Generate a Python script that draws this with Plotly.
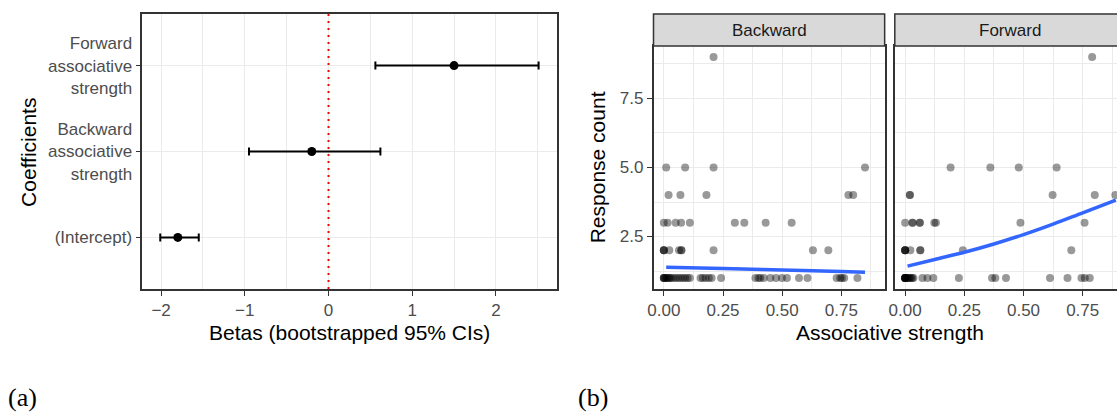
import plotly.graph_objects as go

# ---------------- Panel (a): coefficient estimates ----------------
coef_labels = ["(Intercept)", "Backward<br>associative<br>strength", "Forward<br>associative<br>strength"]
coef_est = [-1.80, -0.20, 1.50]
ci_low = [-2.01, -0.95, 0.56]
ci_high = [-1.55, 0.62, 2.51]
ref_line = 0

# ---------------- Panel (b): response counts ----------------
bw_x = [0.21,
        0.01, 0.09, 0.21, 0.85,
        0.02, 0.07, 0.18, 0.78, 0.80,
        0.00, 0.016, 0.05, 0.073, 0.11, 0.30, 0.34, 0.43, 0.54,
        0.00, 0.00, 0.00, 0.023, 0.064, 0.074, 0.074, 0.21, 0.63, 0.695,
        0.00, 0.00, 0.00, 0.005, 0.01, 0.015, 0.02, 0.025, 0.03, 0.04, 0.05, 0.06,
        0.07, 0.08, 0.09, 0.10, 0.11, 0.155, 0.165, 0.177, 0.19, 0.202, 0.242,
        0.387, 0.40, 0.408, 0.422, 0.45, 0.474, 0.499, 0.52, 0.571, 0.607,
        0.73, 0.745, 0.752, 0.762, 0.818]
bw_y = [9,
        5, 5, 5, 5,
        4, 4, 4, 4, 4,
        3, 3, 3, 3, 3, 3, 3, 3, 3,
        2, 2, 2, 2, 2, 2, 2, 2, 2, 2,
        1, 1, 1, 1, 1, 1, 1, 1, 1, 1, 1, 1,
        1, 1, 1, 1, 1, 1, 1, 1, 1, 1, 1,
        1, 1, 1, 1, 1, 1, 1, 1, 1, 1,
        1, 1, 1, 1, 1]

fw_x = [0.79,
        0.192, 0.36, 0.48, 0.64,
        0.02, 0.02, 0.623, 0.801, 0.888,
        0.00, 0.031, 0.031, 0.062, 0.062, 0.123, 0.13, 0.487, 0.758,
        0.00, 0.00, 0.00, 0.00, 0.022, 0.064, 0.064, 0.244, 0.702,
        0.00, 0.00, 0.00, 0.00, 0.00, 0.00, 0.005, 0.01, 0.015, 0.02, 0.025, 0.03,
        0.035, 0.073, 0.094, 0.119, 0.227, 0.367, 0.381, 0.426, 0.612, 0.686,
        0.745, 0.759, 0.78]
fw_y = [9,
        5, 5, 5, 5,
        4, 4, 4, 4, 4,
        3, 3, 3, 3, 3, 3, 3, 3, 3,
        2, 2, 2, 2, 2, 2, 2, 2, 2,
        1, 1, 1, 1, 1, 1, 1, 1, 1, 1, 1, 1,
        1, 1, 1, 1, 1, 1, 1, 1, 1, 1,
        1, 1, 1]

bw_fit_x = [0.01, 0.25, 0.50, 0.75, 0.85]
bw_fit_y = [1.39, 1.34, 1.29, 1.23, 1.21]
fw_fit_x = [0.01, 0.125, 0.25, 0.375, 0.50, 0.625, 0.75, 0.89]
fw_fit_y = [1.43, 1.67, 1.93, 2.23, 2.57, 2.95, 3.36, 3.82]

facet_names = ["Backward", "Forward"]
x_ticks = [0, 0.25, 0.5, 0.75]
x_ticktext = ["0.00", "0.25", "0.50", "0.75"]

# ---------------- figure ----------------
W, H = 1117, 414
FONT = "Liberation Sans, Arial, sans-serif"
TICK_C = "#4D4D4D"
BORDER_C = "#333333"
GRID_C = "#EBEBEB"
PANEL_W = 232.4  # full facet panel width in px (the Forward one is cut by the page edge)


def px_x(p):
    return p / W


def px_y(p):
    return 1 - p / H


fig = go.Figure()

err_plus = [h - e for h, e in zip(ci_high, coef_est)]
err_minus = [e - l for e, l in zip(coef_est, ci_low)]

fig.add_trace(go.Scatter(
    x=coef_est, y=coef_labels, mode="markers",
    marker=dict(color="black", size=9),
    error_x=dict(type="data", array=err_plus, arrayminus=err_minus,
                 color="black", thickness=2, width=4),
    xaxis="x", yaxis="y", showlegend=False))

pt_marker = dict(color="rgba(0,0,0,0.4)", size=8, line=dict(width=0))
fig.add_trace(go.Scatter(x=bw_x, y=bw_y, mode="markers", marker=pt_marker,
                         xaxis="x2", yaxis="y2", showlegend=False))
fig.add_trace(go.Scatter(x=bw_fit_x, y=bw_fit_y, mode="lines",
                         line=dict(color="#3366FF", width=3.5, shape="spline"),
                         xaxis="x2", yaxis="y2", showlegend=False))
fig.add_trace(go.Scatter(x=fw_x, y=fw_y, mode="markers", marker=pt_marker,
                         xaxis="x3", yaxis="y3", showlegend=False))
fig.add_trace(go.Scatter(x=fw_fit_x, y=fw_fit_y, mode="lines",
                         line=dict(color="#3366FF", width=3.5, shape="spline"),
                         xaxis="x3", yaxis="y3", showlegend=False))

tickfont = dict(family=FONT, size=17, color=TICK_C)
common_ax = dict(showline=True, linecolor=BORDER_C, linewidth=1.5,
                 ticks="outside", ticklen=5, tickwidth=1.2, tickcolor=BORDER_C,
                 showgrid=True, gridcolor=GRID_C, gridwidth=1.3,
                 zeroline=False, tickfont=tickfont)

# left panel axes
left_dom_x = [px_x(137), px_x(554)]
plot_dom_y = [px_y(289), px_y(14)]
fig.update_layout(
    xaxis=dict(domain=left_dom_x, range=[-2.225, 2.73], dtick=1, tick0=0,
               mirror=True, anchor="y",
               minor=dict(dtick=0.5, showgrid=True, gridcolor=GRID_C, gridwidth=0.7),
               **common_ax),
    yaxis=dict(domain=plot_dom_y, type="category", categoryorder="array",
               categoryarray=coef_labels, range=[-0.6, 2.6], mirror=True,
               anchor="x", **common_ax),
)

# right panels
bw_dom = [px_x(651), px_x(651 + PANEL_W)]
fw_dom = [px_x(893.6), 1.0]
right_dom_y = [px_y(289), px_y(46)]
yr = [0.6, 9.4]
minor_x = dict(dtick=0.125, tick0=0, showgrid=True, gridcolor=GRID_C, gridwidth=0.7)
minor_y = dict(dtick=1.25, tick0=0, showgrid=True, gridcolor=GRID_C, gridwidth=0.7)
ax_no_ticks = {k: v for k, v in common_ax.items() if k != "ticks"}
fig.update_layout(
    xaxis2=dict(domain=bw_dom, range=[-0.0437, 0.933], anchor="y2",
                tickvals=x_ticks, ticktext=x_ticktext, mirror=True,
                minor=minor_x, **common_ax),
    yaxis2=dict(domain=right_dom_y, range=yr, anchor="x2", dtick=2.5, tick0=0,
                tickformat=".1f", mirror=True, minor=minor_y, **common_ax),
    xaxis3=dict(domain=fw_dom, range=[-0.0437, 0.895], anchor="y3",
                tickvals=x_ticks, ticktext=x_ticktext, mirror=True,
                minor=minor_x, **common_ax),
    yaxis3=dict(domain=right_dom_y, range=yr, anchor="x3", dtick=2.5, tick0=0,
                showticklabels=False, mirror=False, minor=minor_y,
                ticks="", **ax_no_ticks),
)

shapes = []
# red dotted reference line
shapes.append(dict(type="line", xref="x", yref="paper", x0=ref_line, x1=ref_line,
                   y0=plot_dom_y[0], y1=plot_dom_y[1],
                   line=dict(color="red", width=2, dash="2px,5px")))
# facet strips
strip_y = [px_y(46), px_y(14)]
for dom in (bw_dom, fw_dom):
    shapes.append(dict(type="rect", xref="paper", yref="paper",
                       x0=dom[0], x1=dom[1] + (0.01 if dom[1] >= 1 else 0),
                       y0=strip_y[0], y1=strip_y[1],
                       fillcolor="#D9D9D9", line=dict(color=BORDER_C, width=1.5),
                       layer="above"))

annotations = []
for dom, name in zip((bw_dom, fw_dom), facet_names):
    annotations.append(dict(text=name, xref="paper", yref="paper",
                            x=dom[0] + PANEL_W / 2 / W,
                            y=(strip_y[0] + strip_y[1]) / 2, showarrow=False,
                            xanchor="center", yanchor="middle",
                            font=dict(family=FONT, size=17, color="#1A1A1A")))

title_font = dict(family=FONT, size=21, color="black")
label_font = dict(family="Liberation Serif, serif", size=26, color="black")
annotations += [
    dict(text="Betas (bootstrapped 95% CIs)", xref="paper", yref="paper",
         x=px_x(345.5), y=px_y(332), showarrow=False, xanchor="center", yanchor="middle",
         font=title_font),
    dict(text="Coefficients", xref="paper", yref="paper", x=px_x(22), y=px_y(152),
         showarrow=False, textangle=-90, xanchor="center", yanchor="middle", font=title_font),
    dict(text="Associative strength", xref="paper", yref="paper",
         x=px_x(888.5), y=px_y(332), showarrow=False, xanchor="center", yanchor="middle",
         font=title_font),
    dict(text="Response count", xref="paper", yref="paper", x=px_x(595), y=px_y(167.5),
         showarrow=False, textangle=-90, xanchor="center", yanchor="middle", font=title_font),
    dict(text="(a)", xref="paper", yref="paper", x=px_x(0), y=px_y(397),
         showarrow=False, xanchor="left", yanchor="middle", font=label_font),
    dict(text="(b)", xref="paper", yref="paper", x=px_x(573), y=px_y(397),
         showarrow=False, xanchor="left", yanchor="middle", font=label_font),
]

fig.update_layout(width=W, height=H, margin=dict(l=0, r=0, t=0, b=0),
                  paper_bgcolor="white", plot_bgcolor="white",
                  shapes=shapes, annotations=annotations, showlegend=False)

fig.write_html("out.html", config={"displayModeBar": False},
               post_script="document.body.style.margin='0';document.body.style.overflow='hidden';")
